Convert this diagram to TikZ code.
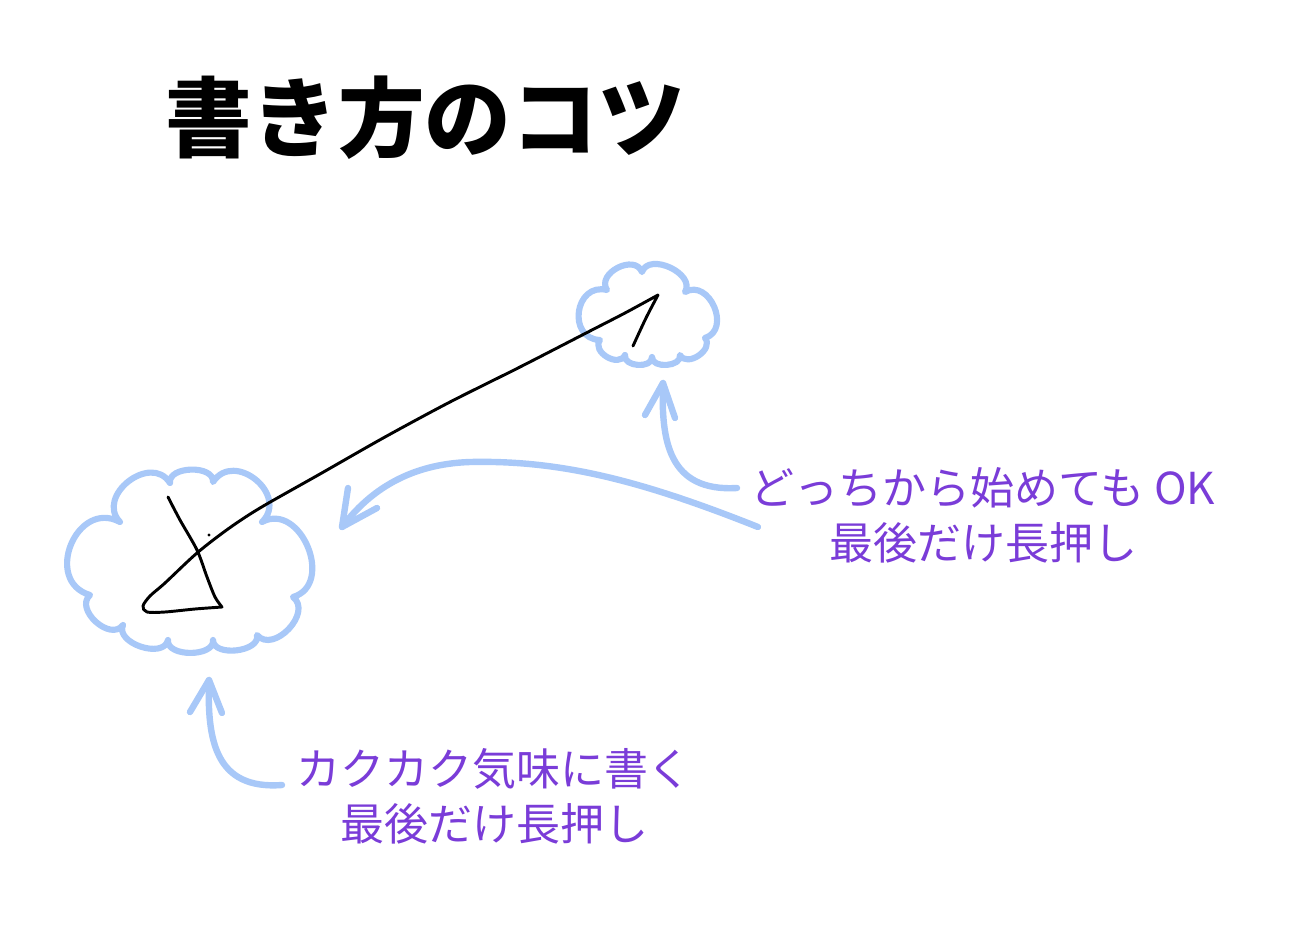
\documentclass[tikz,border=0pt]{standalone}
\usepackage{fontspec}
\newfontfamily\jp{Noto Sans CJK JP}
\usetikzlibrary{calc}
\definecolor{cloudblue}{HTML}{A8C8F8}
\definecolor{notepurple}{HTML}{7A3CD8}
\begin{document}
\begin{tikzpicture}[x=0.75pt,y=-0.75pt,
  cbump/.style={to path={.. controls ($(\tikztostart)!#1!96:(\tikztotarget)$) and ($(\tikztotarget)!#1!-96:(\tikztostart)$) .. (\tikztotarget)}},
  cloudline/.style={draw=cloudblue, line width=4.6pt, line join=round},
  bluearrow/.style={draw=cloudblue, line width=4.8pt, line cap=round, line join=round},
  ink/.style={draw=black, line width=2.2pt, line cap=round, line join=round},
  note/.style={text=notepurple, font=\jp\fontsize{33}{41}\selectfont, align=center, inner sep=0pt},
]
\path[use as bounding box, fill=white] (0,0) rectangle (1290,946);

% title
\node[font=\jp\bfseries\fontsize{65}{70}\selectfont, inner sep=0pt] (title) at (425,118) {書き方のコツ};

% left cloud
\draw[cloudline] (90,595) to[cbump=37pt] (120,522) to[cbump=27pt] (170,483)
  to[cbump=13pt] (213,482) to[cbump=29pt] (262,522) to[cbump=33pt] (293,597)
  to[cbump=19pt] (257,635) to[cbump=13pt] (213,640) to[cbump=13pt] (168,640)
  to[cbump=15pt] (123,625) to[cbump=16pt] (90,595) -- cycle;

% right cloud
\draw[cloudline] (600,340) to[cbump=25pt] (607,290) to[cbump=15pt] (642,272)
  to[cbump=16pt] (685,292) to[cbump=21pt] (705,338) to[cbump=11pt] (680,355)
  to[cbump=9pt] (652,357) to[cbump=9pt] (625,355) to[cbump=11pt] (600,340) -- cycle;

% handwritten stroke
\draw[ink] plot[smooth, tension=0.5] coordinates {(168,497) (180,520) (197,550) (207,577) (215,597) (222,607)}
  -- plot[smooth, tension=0.5] coordinates {(222,607) (195,609) (165,612) (147,612) (143,606) (150,596) (165,583) (197,553) (228,529) (260,508) (320,474) (385,437) (450,402) (520,367) (590,331) (625,313) (658,295)}
  -- plot[smooth, tension=0.5] coordinates {(658,295) (646,318) (633,346)};
\fill (209,535) circle (1.2pt);

% notes
\node[note] (tipA) at (983,515) {どっちから始めても OK\\最後だけ長押し};
\node[note] (tipB) at (494,796) {カクカク気味に書く\\最後だけ長押し};

% arrow to left cloud from bottom note
\coordinate (a1t) at (282,785);
\coordinate (a1h) at (209,680);
\coordinate (a1l) at (190,712);
\coordinate (a1r) at (222,713);
\draw[bluearrow] (a1t) .. controls (215,790) and (207,740) .. (a1h);
\draw[bluearrow] (a1l) -- (a1h) -- (a1r);

% arrow to right cloud
\coordinate (a2t) at (737,488);
\coordinate (a2h) at (663,383);
\coordinate (a2l) at (645,415);
\coordinate (a2r) at (675,418);
\draw[bluearrow] (a2t) .. controls (668,492) and (661,440) .. (a2h);
\draw[bluearrow] (a2l) -- (a2h) -- (a2r);

% long arrow to left cloud
\coordinate (a3t) at (758,527);
\coordinate (a3m) at (470,462);
\coordinate (a3h) at (342,527);
\coordinate (a3l) at (348,488);
\coordinate (a3r) at (377,508);
\draw[bluearrow] (a3t) .. controls (640,480) and (560,460) .. (a3m) .. controls (410,464) and (370,490) .. (a3h);
\draw[bluearrow] (a3l) -- (a3h) -- (a3r);
\end{tikzpicture}
\end{document}
